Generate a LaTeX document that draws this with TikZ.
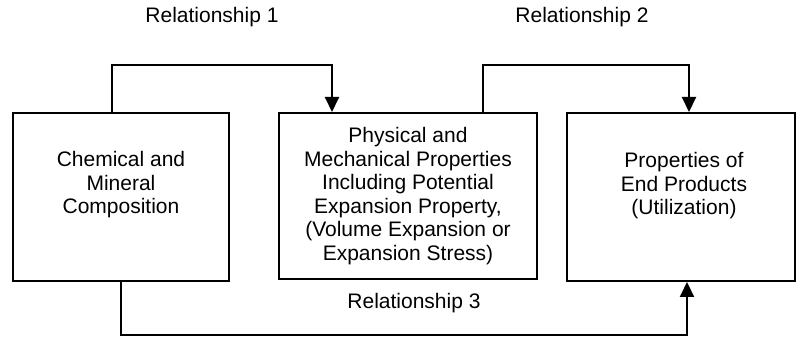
\documentclass[tikz,border=0pt]{standalone}
\usepackage{fontspec}
\setmainfont{Liberation Sans}
\usetikzlibrary{arrows.meta}
\begin{document}
\begin{tikzpicture}[x=1pt,y=-1pt,
  box/.style={draw,line width=2pt,rectangle,inner sep=0pt},
  txt/.style={align=center,font=\fontsize{21}{23.5}\selectfont,inner sep=0pt},
  lab/.style={font=\fontsize{21}{23.5}\selectfont,inner sep=0pt},
  conn/.style={line width=2pt,-{Triangle[length=15pt,width=14pt]}}]
\useasboundingbox (0,0) rectangle (796,339);
\node[box,minimum width=216pt,minimum height=168pt] (b1) at (121,197) {};
\node[box,minimum width=258pt,minimum height=166pt] (b2) at (408,196) {};
\node[box,minimum width=228pt,minimum height=168pt] (b3) at (681,197) {};
\node[txt] (t1) at (121,185) {Chemical and\\Mineral\\Composition};
\node[txt] (t2) at (408,196) {Physical and\\Mechanical Properties\\Including Potential\\Expansion Property,\\(Volume Expansion or\\Expansion Stress)};
\node[txt] (t3) at (684,186) {Properties of\\End Products\\(Utilization)};
\node[lab] (r1) at (212,17) {Relationship 1};
\node[lab] (r2) at (582,17) {Relationship 2};
\node[lab] (r3) at (414,303) {Relationship 3};
\coordinate (k1) at (112,65);
\coordinate (k2) at (332,65);
\coordinate (k3) at (483,65);
\coordinate (k4) at (689,65);
\coordinate (k5) at (121,335);
\coordinate (k6) at (687,335);
\draw[conn] (k1 |- b1.north) -- (k1) -- (k2) -- (k2 |- b2.north);
\draw[conn] (k3 |- b2.north) -- (k3) -- (k4) -- (k4 |- b3.north);
\draw[conn] (k5 |- b1.south) -- (k5) -- (k6) -- (k6 |- b3.south);
\end{tikzpicture}
\end{document}
